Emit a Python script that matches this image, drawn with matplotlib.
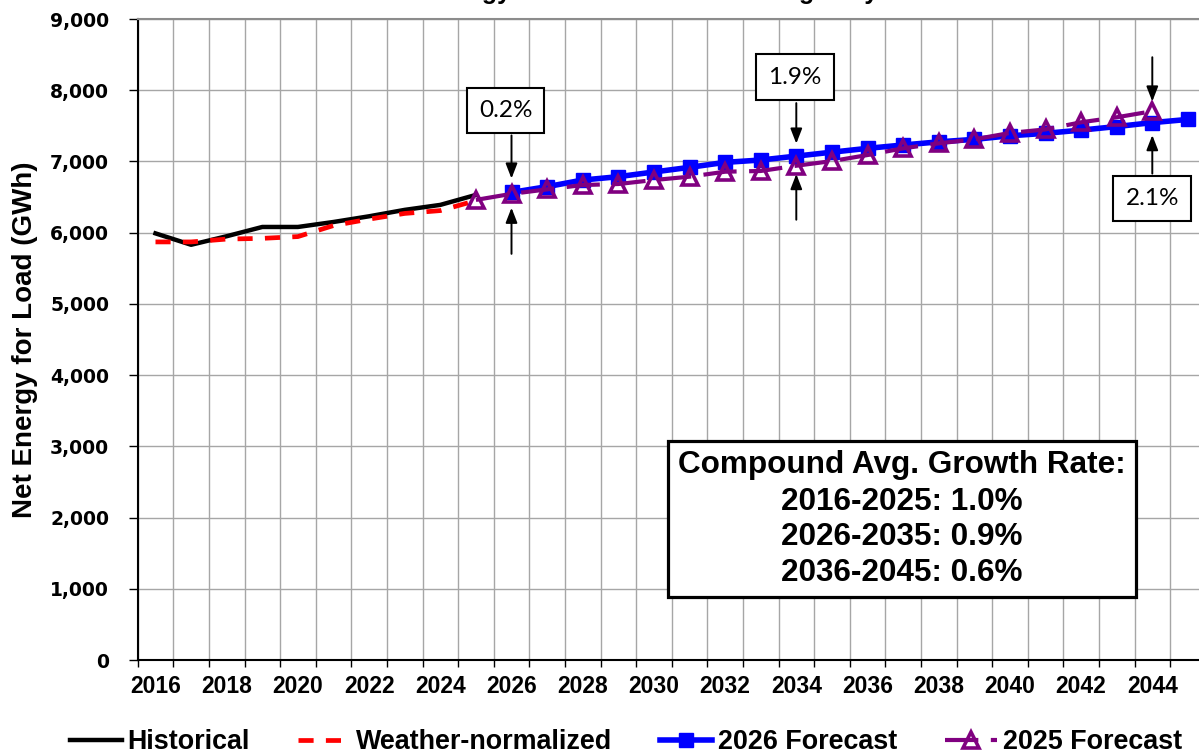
import matplotlib
matplotlib.use("Agg")
import matplotlib.pyplot as plt
import matplotlib.ticker as mticker
from matplotlib.patches import Rectangle

plt.rcParams['font.family'] = ['Liberation Sans', 'DejaVu Sans']

# ---------------- data ----------------
hist_years = list(range(2016, 2026))
historical = [5990, 5830, 5950, 6080, 6080, 6150, 6230, 6320, 6390, 6530]

wn_years = list(range(2016, 2026))
weather_normalized = [5870, 5870, 5910, 5920, 5945, 6100, 6190, 6270, 6310, 6450]

f2026_years = list(range(2026, 2046))
forecast_2026 = [6565, 6646, 6739, 6786, 6852, 6917, 6987, 7020, 7075, 7130,
                 7184, 7231, 7275, 7310, 7360, 7395, 7440, 7490, 7545, 7590]

f2025_years = list(range(2025, 2045))
forecast_2025 = [6460, 6545, 6608, 6669, 6683, 6739, 6786, 6856, 6866, 6940,
                 7005, 7090, 7184, 7254, 7310, 7400, 7450, 7550, 7620, 7705]

pct_labels = ["0.2%", "1.9%", "2.1%"]
pct_years = [2026, 2034, 2044]

x_tick_years = list(range(2016, 2046, 2))
y_ticks = list(range(0, 9001, 1000))

cagr_title = "Compound Avg. Growth Rate:"
cagr_lines = ["2016-2025: 1.0%", "2026-2035: 0.9%", "2036-2045: 0.6%"]

title = "Net Energy for Load Forecast Changes by Year"
y_label = "Net Energy for Load (GWh)"

# ---------------- figure / layout ----------------
W, H = 1199, 755
fig = plt.figure(figsize=(W / 100, H / 100), dpi=100)
ax_left, ax_right, ax_top, ax_bottom = 137.7, 1205.7, 19.0, 660.0
ax = fig.add_axes([ax_left / W, 1 - ax_bottom / H,
                   (ax_right - ax_left) / W, (ax_bottom - ax_top) / H])

def axfrac(px, py):
    return ((px - ax_left) / (ax_right - ax_left), (ax_bottom - py) / (ax_bottom - ax_top))

# ---------------- series ----------------
ax.plot(hist_years, historical, color='black', lw=3.2, solid_joinstyle='round',
        label='Historical', zorder=3)
ax.plot(wn_years, weather_normalized, color='#FF0000', lw=3.4,
        linestyle=(0, (3.2, 2.6)), label='Weather-normalized', zorder=4)
ax.plot(f2026_years, forecast_2026, color='#0000FF', lw=4.0, marker='s',
        markersize=10.5, markerfacecolor='#0000FF', markeredgecolor='#0000FF',
        label='2026 Forecast', zorder=5)
ax.plot(f2025_years, forecast_2025, color='#800080', lw=3.0,
        linestyle=(0, (8, 3)), marker='^', markersize=11, markerfacecolor='none',
        markeredgecolor='#800080', markeredgewidth=2.6,
        label='2025 Forecast', zorder=6)

# ---------------- axes styling ----------------
ax.set_xlim(2015.5, 2045.5)
ax.set_ylim(0, 9000)
ax.set_xticks(x_tick_years)
ax.set_xticks([y - 0.5 for y in range(2016, 2047)], minor=True)
ax.set_yticks(y_ticks)
ax.yaxis.set_major_formatter(mticker.FuncFormatter(lambda v, p: f"{int(v):,}"))

ax.set_axisbelow(True)
grid_c = '#A6A6A6'
ax.grid(which='minor', axis='x', color=grid_c, lw=1.0)
ax.grid(which='major', axis='y', color=grid_c, lw=1.0)
ax.grid(which='major', axis='x', visible=False)

for s in ['left', 'bottom']:
    ax.spines[s].set_color('black')
    ax.spines[s].set_linewidth(1.5)
ax.spines['top'].set_color('#8C8C8C')
ax.spines['top'].set_linewidth(1.5)
ax.spines['right'].set_visible(False)

ax.tick_params(axis='x', which='major', length=0, pad=11, labelsize=16.5)
ax.tick_params(axis='x', which='minor', length=5, width=1.0, direction='out', color='black')
ax.tick_params(axis='y', which='major', length=6.5, width=1.0, direction='out', pad=14)
for lab in ax.get_xticklabels():
    lab.set_fontweight('bold')
for lab in ax.get_yticklabels():
    lab.set_fontweight('bold')
    lab.set_family(['DejaVu Sans'])
    lab.set_fontsize(13.5)

ax.set_ylabel(y_label, fontsize=20, fontweight='bold')
ax.yaxis.label.set_verticalalignment('center')
ax.yaxis.set_label_coords((24.7 - ax_left) / (ax_right - ax_left), 0.5)

# clipped title (only descenders visible, as in the reference)
fig.text(379 / W, 1 + 1 / H, title, ha='left', va='baseline', fontsize=18,
         fontweight='bold')

# ---------------- % difference call-outs ----------------
box_family = ['Lato', 'DejaVu Sans']
box_style = dict(boxstyle='square,pad=0.5', fc='white', ec='black', lw=1.5)
arrow_kw = dict(arrowstyle='-|>,head_length=0.9,head_width=0.35', color='black',
                lw=1.4, shrinkA=0)

def val_of(years, vals, yr):
    return vals[years.index(yr)]

def callout(label, yr, v, dx, dy):
    ax.annotate(label, xy=(yr, v), xytext=(dx, dy), textcoords='offset pixels',
                ha='center', va='center', family=box_family, fontsize=17.5,
                bbox=box_style, zorder=8)

def arrow(yr, v, dy, gap):
    ax.annotate('', xy=(yr, v), xytext=(0, dy), textcoords='offset pixels',
                arrowprops=dict(shrinkB=gap, **arrow_kw), zorder=8)

# 0.2% at 2026
yr = pct_years[0]
v_hi = val_of(f2026_years, forecast_2026, yr)
v_lo = val_of(f2025_years, forecast_2025, yr)
callout(pct_labels[0], yr, v_hi, -6, 82)
arrow(yr, v_hi, 57, 10)
arrow(yr, v_lo, -60, 10)

# 1.9% at 2034
yr = pct_years[1]
v_hi = val_of(f2026_years, forecast_2026, yr)
v_lo = val_of(f2025_years, forecast_2025, yr)
callout(pct_labels[1], yr, v_hi, -1.5, 79)
arrow(yr, v_hi, 53, 9)
arrow(yr, v_lo, -54, 6)

# 2.1% at 2044
yr = pct_years[2]
v_lo = val_of(f2026_years, forecast_2026, yr)
v_hi = val_of(f2025_years, forecast_2025, yr)
callout(pct_labels[2], yr, v_lo, 0, -76)
arrow(yr, v_lo, -51, 9)
arrow(yr, v_hi, 54, 7)

# ---------------- growth-rate box ----------------
x0, y0 = axfrac(668.3, 596.7)
x1, y1 = axfrac(1136.0, 441.0)
ax.add_patch(Rectangle((x0, y0), x1 - x0, y1 - y0, transform=ax.transAxes,
                       fc='white', ec='black', lw=2.3, zorder=7))
cx = (x0 + x1) / 2
for line, py in zip([cagr_title] + cagr_lines, [465, 501.5, 537, 573]):
    ax.text(cx, axfrac(0, py)[1], line, transform=ax.transAxes, ha='center',
            va='center', fontsize=22.7, fontweight='bold', zorder=8)

# ---------------- legend ----------------
fig.legend(loc='center', bbox_to_anchor=(0.522, 1 - 742 / H), ncol=4, frameon=False,
           prop=dict(family='Liberation Sans', weight='bold', size=19.4),
           handlelength=1.93, handletextpad=0.22, columnspacing=1.78,
           borderaxespad=0, borderpad=0, numpoints=1)

fig.savefig('out.png', dpi=100)
